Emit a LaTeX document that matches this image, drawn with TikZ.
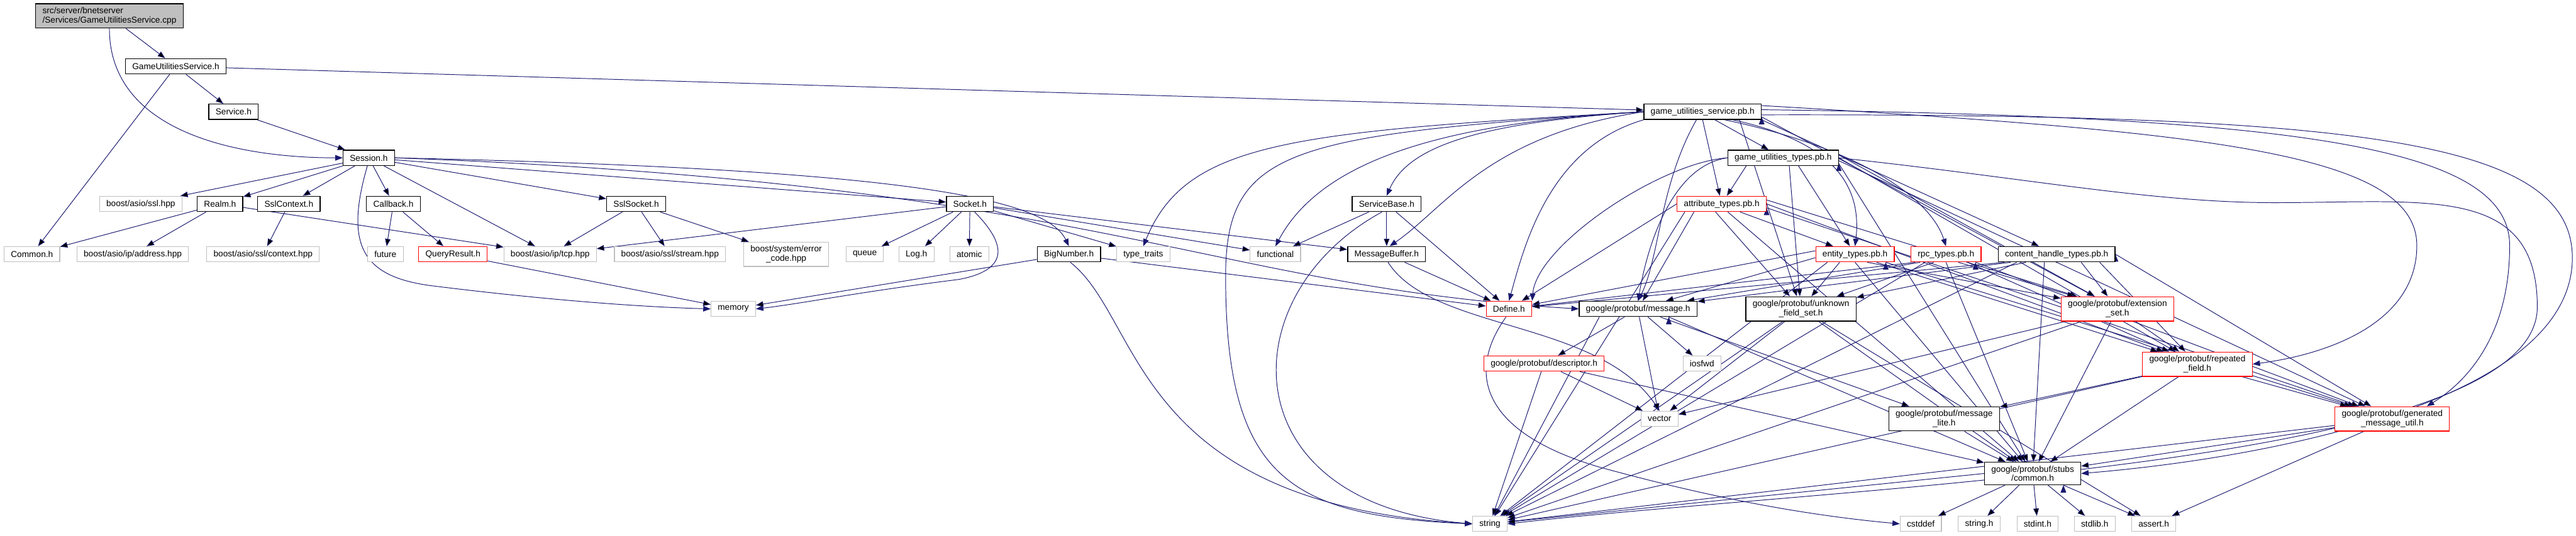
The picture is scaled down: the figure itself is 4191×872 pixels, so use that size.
\documentclass[tikz,border=0pt]{standalone}
\usepackage{fontspec}
\newfontfamily\hdrfont{Liberation Sans}
\usetikzlibrary{arrows.meta}
\definecolor{depblue}{RGB}{25,25,112}
\definecolor{sysgray}{RGB}{191,191,191}
\pgfdeclarelayer{bg}
\pgfsetlayers{bg,main}

\begin{document}
\begin{tikzpicture}[
    x=1pt,y=-1pt,
    hdr/.style={draw=black,fill=white,line width=1.3pt,inner xsep=11pt,inner ysep=5.8pt,
      minimum height=25pt,align=center,font=\hdrfont\fontsize{14}{15}\selectfont},
    sys/.style={hdr,draw=sysgray,line width=1.1pt},
    cut/.style={hdr,draw=red},
    root/.style={hdr,fill=sysgray,align=left},
    dep/.style={draw=depblue,line width=1pt,-{Triangle[length=12pt,width=9pt]}}
]
\useasboundingbox (0,0) rectangle (4191,872);

% top of the graph
\node[root] (cpp) at (178,26) {src/server/bnetserver\\/Services/GameUtilitiesService.cpp};
\node[hdr] (gussvc) at (286,108) {GameUtilitiesService.h};
\node[hdr] (service) at (380,182) {Service.h};
\node[hdr] (session) at (600,257) {Session.h};
\node[hdr] (gusvcpb) at (2770,182) {game\_utilities\_service.pb.h};
\node[hdr] (gutypespb) at (2901,257) {game\_utilities\_types.pb.h};

% rank 4
\node[sys] (asiossl) at (229,332) {boost/asio/ssl.hpp};
\node[hdr] (realm) at (358,332) {Realm.h};
\node[hdr] (sslctx) at (470,332) {SslContext.h};
\node[hdr] (callback) at (640,332) {Callback.h};
\node[hdr] (sslsock) at (1035,332) {SslSocket.h};
\node[hdr] (socket) at (1578,332) {Socket.h};
\node[hdr] (svcbase) at (2256,332) {ServiceBase.h};
\node[cut] (attrpb) at (2801,332) {attribute\_types.pb.h};

% rank 5
\node[sys] (common) at (52,414) {Common.h};
\node[sys] (ipaddr) at (216,414) {boost/asio/ip/address.hpp};
\node[sys] (sslcontext) at (428,414) {boost/asio/ssl/context.hpp};
\node[sys] (future) at (627,414) {future};
\node[cut] (qresult) at (737,414) {QueryResult.h};
\node[sys] (iptcp) at (895,414) {boost/asio/ip/tcp.hpp};
\node[sys] (sslstream) at (1090,414) {boost/asio/ssl/stream.hpp};
\node[sys] (errcode) at (1279,414) {boost/system/error\\\_code.hpp};
\node[sys] (queue) at (1407,414) {queue};
\node[sys] (log) at (1491,414) {Log.h};
\node[sys] (atomic) at (1577,414) {atomic};
\node[hdr] (bignum) at (1739,414) {BigNumber.h};
\node[sys] (typetraits) at (1860,414) {type\_traits};
\node[sys] (functional) at (2075,414) {functional};
\node[hdr] (msgbuf) at (2256,414) {MessageBuffer.h};
\node[cut] (entitypb) at (3018,414) {entity\_types.pb.h};
\node[cut] (rpcpb) at (3166,414) {rpc\_types.pb.h};
\node[hdr] (contentpb) at (3346,414) {content\_handle\_types.pb.h};

% protobuf headers
\node[sys] (memory) at (1193,503) {memory};
\node[cut] (define) at (2455,503) {Define.h};
\node[hdr] (pbmessage) at (2665,503) {google/protobuf/message.h};
\node[hdr] (pbunknown) at (2930,503) {google/protobuf/unknown\\\_field\_set.h};
\node[cut] (pbextset) at (3445,503) {google/protobuf/extension\\\_set.h};
\node[cut] (pbdescr) at (2512,592) {google/protobuf/descriptor.h};
\node[sys] (iosfwd) at (2769,592) {iosfwd};
\node[cut] (pbrepeated) at (3575,593) {google/protobuf/repeated\\\_field.h};
\node[sys] (vector) at (2700,682) {vector};
\node[hdr] (pblite) at (3163,682) {google/protobuf/message\\\_lite.h};
\node[cut] (pbgenutil) at (3892,682) {google/protobuf/generated\\\_message\_util.h};
\node[hdr] (pbcommon) at (3307,771) {google/protobuf/stubs\\/common.h};

% bottom row
\node[sys] (string) at (2424,853) {string};
\node[sys] (cstddef) at (3125,853) {cstddef};
\node[sys] (stringh) at (3220,853) {string.h};
\node[sys] (stdint) at (3315,853) {stdint.h};
\node[sys] (stdlib) at (3408,853) {stdlib.h};
\node[sys] (asserth) at (3504,853) {assert.h};

\begin{pgfonlayer}{bg}
% left part
\path[dep] (cpp) edge (gussvc);
\draw[dep] (cpp.south) .. controls (178,216) and (388,257) .. (session.west);
\path[dep] (gussvc) edge (service) edge (common) edge (gusvcpb);
\path[dep] (service) edge (session);
\path[dep] (session) edge (asiossl) edge (realm) edge (sslctx) edge (callback)
  edge (iptcp) edge (sslsock) edge (socket);
\draw[dep] (session.east) .. controls (1450,275) and (1700,320) .. (bignum.north);
\draw[dep] (session.-100) .. controls (560,400) and (590,450) .. (700,465)
  .. controls (900,490) and (1050,500) .. (memory.west);
\draw[dep] (session.east) .. controls (1800,300) and (1950,465) .. (pbmessage.west);
\path[dep] (realm) edge (common) edge (ipaddr) edge (iptcp);
\path[dep] (sslctx) edge (sslcontext);
\path[dep] (callback) edge (future) edge (qresult);
\path[dep] (qresult) edge (memory);
\path[dep] (sslsock) edge (iptcp) edge (sslstream) edge (errcode);
\path[dep] (socket) edge (iptcp) edge (queue) edge (log) edge (atomic)
  edge (typetraits) edge (functional) edge (msgbuf);
\draw[dep] (socket.-60) .. controls (1640,400) and (1640,440) .. (1560,455)
  .. controls (1400,475) and (1300,495) .. (memory.east);
\path[dep] (bignum) edge (memory) edge (define);
\draw[dep] (bignum.-80) .. controls (1860,520) and (1840,820) .. (string.west);

% game_utilities_service.pb.h
\draw[dep] (gusvcpb.west) .. controls (2100,215) and (1930,230) .. (typetraits.north);
\draw[dep] (gusvcpb.west) .. controls (2100,220) and (1994,240) .. (1994,450)
  .. controls (1994,780) and (2100,840) .. (string.west);
\draw[dep] (gusvcpb.west) .. controls (2350,200) and (2150,260) .. (functional.north);
\draw[dep] (gusvcpb.west) .. controls (2400,200) and (2290,240) .. (svcbase.north);
\draw[dep] (gusvcpb.west) .. controls (2420,220) and (2350,340) .. (msgbuf.70);
\draw[dep] (gusvcpb.south west) .. controls (2520,240) and (2480,400) .. (define.north);
\draw[dep] ([xshift=-10pt]gusvcpb.south) .. controls (2700,300) and (2700,420) .. (pbmessage.north);
\path[dep] (gusvcpb.south) edge (attrpb) ([xshift=20pt]gusvcpb.south) edge (gutypespb)
  ([xshift=60pt]gusvcpb.south) edge (pbunknown) (gusvcpb.south east) edge (contentpb)
  (gusvcpb.-5) edge (pbextset);
\draw[dep] (gusvcpb.-15) .. controls (2980,230) and (3030,300) .. (entitypb.north);
\draw[dep] (gusvcpb.-20) .. controls (3020,240) and (3140,320) .. (rpcpb.north);
\draw[dep] (gusvcpb.6) .. controls (3600,215) and (3932,250) .. (3932,400)
  .. controls (3932,520) and (3800,575) .. (pbrepeated.east);
\draw[dep] (gusvcpb.2) .. controls (3750,190) and (4083,240) .. (4083,400)
  .. controls (4083,560) and (4000,630) .. (pbgenutil.20);
\draw[dep] (gusvcpb.-3) .. controls (3850,185) and (4185,230) .. (4185,420)
  .. controls (4185,650) and (3700,745) .. (pbcommon.east);

\path[dep] (svcbase) edge (functional) edge (msgbuf) edge (define);
\draw[dep] (svcbase.-120) .. controls (2000,480) and (2000,820) .. (string.west);
\path[dep] (msgbuf) edge (define);
\draw[dep] (msgbuf.-80) .. controls (2330,540) and (2600,520) .. (vector.north);

% generated type headers
\draw[dep] (gutypespb.west) .. controls (2700,265) and (2500,400) .. (define.north east);
\draw[dep] (gutypespb.west) .. controls (2720,270) and (2680,400) .. (pbmessage.north);
\draw[dep] (gutypespb.east) .. controls (3300,290) and (3500,330) .. (3700,330)
  .. controls (3950,330) and (4128,300) .. (4128,500)
  .. controls (4128,760) and (3000,790) .. (string.east);
\path[dep] ([xshift=-60pt]gutypespb.south) edge (attrpb)
  ([xshift=10pt]gutypespb.south) edge (pbunknown)
  ([xshift=25pt]gutypespb.south) edge (entitypb)
  (gutypespb.3) edge (pbextset) (gutypespb.0) edge (pbrepeated)
  (gutypespb.-3) edge (pbgenutil) (gutypespb.-6) edge (pbcommon);
\path[dep] (attrpb.west) edge (define)
  ([xshift=-60pt]attrpb.south) edge (string)
  ([xshift=-45pt]attrpb.south) edge (pbmessage)
  ([xshift=-10pt]attrpb.south) edge (pbunknown)
  ([xshift=10pt]attrpb.south) edge (pbcommon)
  ([xshift=30pt]attrpb.south) edge (entitypb)
  (attrpb.5) edge (pbextset) (attrpb.0) edge (pbrepeated) (attrpb.-5) edge (pbgenutil);
\path[dep] (entitypb.175) edge (define) (entitypb.185) edge (pbmessage)
  ([xshift=-45pt]entitypb.south) edge (string)
  ([xshift=-25pt]entitypb.south) edge (pbunknown)
  (entitypb.south) edge (pbcommon)
  ([xshift=20pt]entitypb.south) edge (pbextset)
  ([xshift=35pt]entitypb.south) edge (pbrepeated)
  ([xshift=50pt]entitypb.south) edge (pbgenutil);
\path[dep] ([xshift=-50pt]rpcpb.south) edge (define)
  ([xshift=-42pt]rpcpb.south) edge (pbmessage)
  ([xshift=-34pt]rpcpb.south) edge (string)
  ([xshift=-20pt]rpcpb.south) edge (pbunknown)
  (rpcpb.south) edge (pbcommon)
  ([xshift=20pt]rpcpb.south) edge (pbextset)
  ([xshift=35pt]rpcpb.south) edge (pbrepeated)
  ([xshift=48pt]rpcpb.south) edge (pbgenutil);
\path[dep] ([xshift=-85pt]contentpb.south) edge (define)
  ([xshift=-75pt]contentpb.south) edge (pbmessage)
  ([xshift=-65pt]contentpb.south) edge (string)
  ([xshift=-50pt]contentpb.south) edge (pbunknown)
  ([xshift=-20pt]contentpb.south) edge (pbcommon)
  ([xshift=40pt]contentpb.south) edge (pbextset)
  ([xshift=70pt]contentpb.south) edge (pbrepeated)
  (contentpb.east) edge (pbgenutil);

% protobuf internals
\draw[dep] (define.-110) .. controls (2390,600) and (2400,700) .. (2600,760)
  .. controls (2800,815) and (2950,840) .. (cstddef.west);
\path[dep] ([xshift=-63pt]pbmessage.south) edge (string)
  ([xshift=-22pt]pbmessage.south) edge (pbdescr)
  ([xshift=2pt]pbmessage.south) edge (vector)
  ([xshift=16pt]pbmessage.south) edge (iosfwd)
  ([xshift=36pt]pbmessage.south) edge (pblite)
  ([xshift=50pt]pbmessage.south) edge (pbcommon);
\path[dep] (pbdescr) edge (string) edge (vector) edge (pbcommon);
\path[dep] (pbunknown) edge (string) edge (vector) edge (pbcommon) edge (asserth);
\path[dep] (pbextset) edge (vector) edge (string) edge (pbcommon) edge (pbrepeated);
\path[dep] (pbrepeated) edge (string) edge (pbcommon) edge (pblite) edge (pbgenutil);
\path[dep] (pblite) edge (pbcommon);
\path[dep] (pbgenutil) edge (string) edge (pbcommon) edge (asserth);
\path[dep] (pbcommon.west) edge (string)
  ([xshift=-45pt]pbcommon.south) edge (cstddef)
  ([xshift=-22pt]pbcommon.south) edge (stringh)
  ([xshift=2pt]pbcommon.south) edge (stdint)
  ([xshift=25pt]pbcommon.south) edge (stdlib)
  ([xshift=50pt]pbcommon.south) edge (asserth);
\end{pgfonlayer}
\end{tikzpicture}
\end{document}
